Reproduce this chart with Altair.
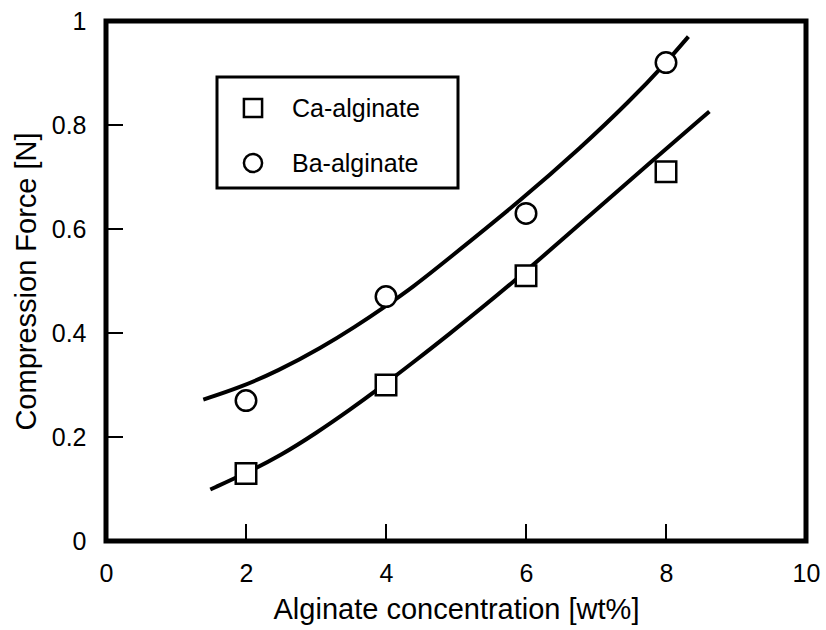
import altair as alt
import pandas as pd

# Measured points
conc = [2, 4, 6, 8]
ca_force = [0.13, 0.30, 0.51, 0.71]
ba_force = [0.27, 0.47, 0.63, 0.92]

# Fitted curves
ca_fit_x = [1.49, 2.01, 2.49, 3.01, 3.49, 3.84, 4.46, 4.82, 5.75, 6.96, 7.82, 8.62]
ca_fit_y = [0.099, 0.131, 0.164, 0.208, 0.253, 0.287, 0.351, 0.389, 0.489, 0.632, 0.733, 0.826]
ba_fit_x = [1.39, 1.89, 2.46, 3.08, 3.56, 3.99, 4.39, 4.82, 5.97, 6.78, 7.49, 7.99, 8.32]
ba_fit_y = [0.272, 0.294, 0.327, 0.372, 0.412, 0.451, 0.489, 0.535, 0.660, 0.756, 0.847, 0.918, 0.970]

series_names = ["Ca-alginate", "Ba-alginate"]
series_shapes = ["square", "circle"]

x_label_values = [0, 2, 4, 6, 8, 10]
y_label_values = [0, 0.2, 0.4, 0.6, 0.8, 1]
x_inner_ticks = [2, 4, 6, 8]
y_inner_ticks = [0.2, 0.4, 0.6, 0.8]

W, H = 700, 520
FONT = "Liberation Sans"
TICK_LEN = 17

points = pd.DataFrame({
    "conc": conc * 2,
    "force": ca_force + ba_force,
    "series": [series_names[0]] * len(conc) + [series_names[1]] * len(conc),
})
fits = pd.DataFrame({
    "conc": ca_fit_x + ba_fit_x,
    "force": ca_fit_y + ba_fit_y,
    "series": [series_names[0]] * len(ca_fit_x) + [series_names[1]] * len(ba_fit_x),
})

xs = alt.Scale(domain=[0, 10], nice=False, zero=False)
ys = alt.Scale(domain=[0, 1], nice=False, zero=False)

x_axis = alt.Axis(
    values=x_label_values, format="d", ticks=False, domain=False, grid=False,
    labelFont=FONT, labelFontSize=25, labelColor="black", labelPadding=20,
    labelOverlap=False, labelFlush=False,
    title="Alginate concentration [wt%]", titleFont=FONT, titleFontSize=29,
    titleFontWeight="normal", titleColor="black", titlePadding=9,
)
y_axis = alt.Axis(
    values=y_label_values, format="~g", ticks=False, domain=False, grid=False,
    labelFont=FONT, labelFontSize=25, labelColor="black", labelPadding=20,
    labelOverlap=False, labelFlush=False,
    title="Compression Force [N]", titleFont=FONT, titleFontSize=29,
    titleFontWeight="normal", titleColor="black", titlePadding=10,
)

X = alt.X("conc:Q", scale=xs, axis=x_axis)
Y = alt.Y("force:Q", scale=ys, axis=y_axis)
shape_scale = alt.Scale(domain=series_names, range=series_shapes)

curves = alt.Chart(fits).mark_line(
    color="black", strokeWidth=4, interpolate="basis"
).encode(x=X, y=Y, detail="series:N")

markers = alt.Chart(points).mark_point(
    fill="white", stroke="black", strokeWidth=2.5, opacity=1, fillOpacity=1, size=420
).encode(
    x=X, y=Y,
    shape=alt.Shape("series:N", scale=shape_scale, legend=None),
)

# Inward tick marks on the bottom and left edges
xt = alt.Chart(pd.DataFrame({"conc": x_inner_ticks})).mark_rule(
    color="black", strokeWidth=2
).encode(x=X, y=alt.value(H), y2=alt.value(H - TICK_LEN))

yt = alt.Chart(pd.DataFrame({"force": y_inner_ticks})).mark_rule(
    color="black", strokeWidth=2
).encode(y=Y, x=alt.value(0), x2=alt.value(TICK_LEN))

# Boxed legend in the upper-left of the plot
one = pd.DataFrame({"k": [0]})
legend_box = alt.Chart(one).mark_rect(
    fill="white", stroke="black", strokeWidth=3
).encode(
    x=alt.value(111), x2=alt.value(352), y=alt.value(56), y2=alt.value(167)
)
legend_layers = [legend_box]
row_y = [87, 142]
for name, shape, yy in zip(series_names, series_shapes, row_y):
    legend_layers.append(
        alt.Chart(one).mark_point(
            shape=shape, fill="white", stroke="black", strokeWidth=2.5,
            opacity=1, fillOpacity=1, size=330
        ).encode(x=alt.value(147), y=alt.value(yy))
    )
    legend_layers.append(
        alt.Chart(one).mark_text(
            align="left", baseline="middle", font=FONT, fontSize=25, color="black"
        ).encode(x=alt.value(186), y=alt.value(yy + 1), text=alt.value(name))
    )

chart = alt.layer(
    curves, markers, xt, yt, *legend_layers
).properties(
    width=W, height=H,
    autosize=alt.AutoSizeParams(type="none"),
    padding={"left": 106, "right": 20, "top": 21, "bottom": 89},
    background="white",
).configure_view(
    stroke="black", strokeWidth=5
)

chart.save("out.html", embed_options={"renderer": "svg", "actions": False})
